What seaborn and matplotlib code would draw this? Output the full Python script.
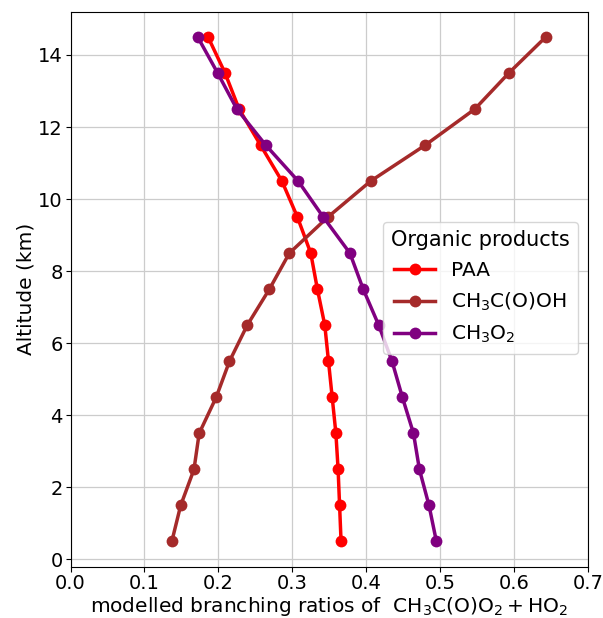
import matplotlib
matplotlib.use("Agg")
import matplotlib.pyplot as plt
import seaborn as sns
import pandas as pd

altitude = [0.5, 1.5, 2.5, 3.5, 4.5, 5.5, 6.5, 7.5, 8.5, 9.5, 10.5, 11.5, 12.5, 13.5, 14.5]
paa = [0.366, 0.364, 0.362, 0.359, 0.354, 0.349, 0.344, 0.334, 0.325, 0.307, 0.286, 0.257, 0.228, 0.209, 0.186]
acetic = [0.137, 0.149, 0.167, 0.174, 0.197, 0.215, 0.239, 0.269, 0.296, 0.348, 0.406, 0.480, 0.547, 0.593, 0.643]
ch3o2 = [0.495, 0.485, 0.472, 0.464, 0.449, 0.435, 0.417, 0.396, 0.378, 0.342, 0.308, 0.264, 0.225, 0.199, 0.172]

labels = ["PAA", r"$\mathrm{CH_3C(O)OH}$", r"$\mathrm{CH_3O_2}$"]
colors = ["red", "brown", "purple"]

frames = []
for lab, vals in zip(labels, [paa, acetic, ch3o2]):
    frames.append(pd.DataFrame({"ratio": vals, "alt": altitude, "product": lab}))
df = pd.concat(frames, ignore_index=True)

fig = plt.figure(figsize=(6.03, 6.18), dpi=100)
ax = fig.add_axes([0.117, 0.083, 0.858, 0.898])

sns.lineplot(data=df, x="ratio", y="alt", hue="product", hue_order=labels,
             palette=colors, marker="o", sort=False, estimator=None,
             linewidth=2.5, markersize=8.5, markeredgewidth=0, ax=ax)

ax.set_xlim(0, 0.7)
ax.set_xticks([0.0, 0.1, 0.2, 0.3, 0.4, 0.5, 0.6, 0.7])
ax.set_yticks([0, 2, 4, 6, 8, 10, 12, 14])
ax.grid(True, color="#cccccc", linewidth=0.9)
ax.tick_params(labelsize=14, pad=2)
ax.set_xlabel(r"modelled branching ratios of  $\mathrm{CH_3C(O)O_2+HO_2}$", fontsize=14.5, labelpad=1)
ax.set_ylabel("Altitude (km)", fontsize=14.5, labelpad=2)

leg = ax.legend(title="Organic products", fontsize=14.5, title_fontsize=15,
                loc="center right", bbox_to_anchor=(1.0, 0.503), labelspacing=0.55)

fig.savefig("out.png", dpi=100)
